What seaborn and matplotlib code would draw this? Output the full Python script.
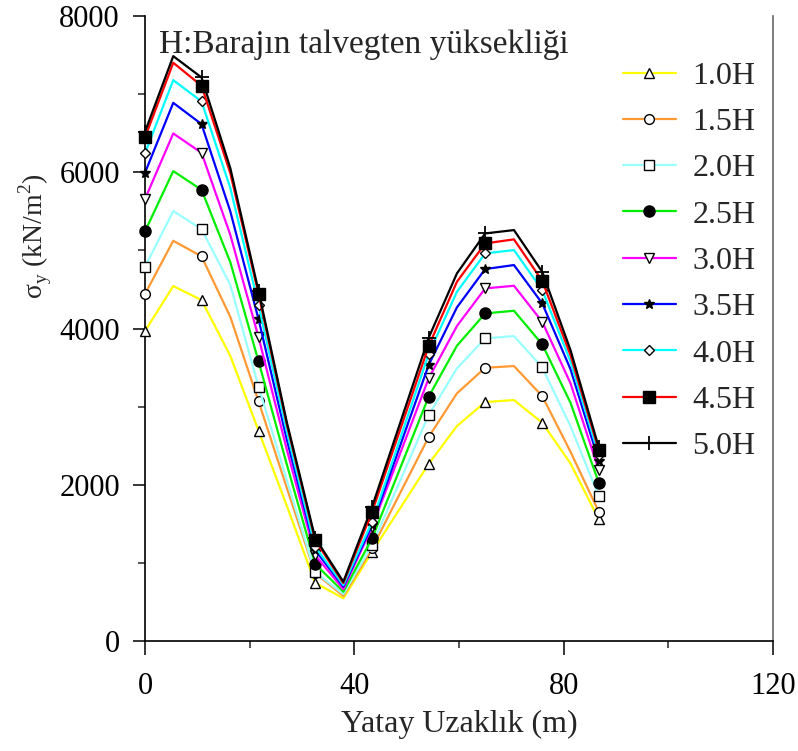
import numpy as np
import pandas as pd
import matplotlib
matplotlib.use("Agg")
import matplotlib.pyplot as plt
from matplotlib.ticker import MultipleLocator
import seaborn as sns

# ── veri ─────────────────────────────────────────────────────────────────────
x_m = [0, 5.4, 10.8, 16.3, 21.7, 27.1, 32.5, 37.9, 43.4, 48.8,
       54.2, 59.6, 65.0, 70.5, 75.9, 81.3, 86.7]

h10 = [3968, 4544, 4365, 3650, 2692, 1730, 746, 546, 1143, 1705, 2266, 2752, 3059, 3085, 2794, 2274, 1558]
h15 = [4442, 5124, 4924, 4150, 3068, 1960, 870, 576, 1187, 1900, 2611, 3170, 3498, 3520, 3136, 2423, 1655]
h20 = [4791, 5504, 5274, 4560, 3256, 2060, 879, 601, 1229, 2060, 2893, 3490, 3874, 3904, 3503, 2750, 1856]
h25 = [5244, 6016, 5777, 4850, 3580, 2260, 986, 631, 1314, 2220, 3127, 3780, 4194, 4228, 3798, 3050, 2026]
h30 = [5658, 6498, 6250, 5200, 3888, 2450, 1101, 662, 1463, 2410, 3362, 4032, 4514, 4548, 4087, 3300, 2189]
h35 = [5995, 6890, 6618, 5500, 4118, 2580, 1165, 695, 1485, 2510, 3533, 4271, 4762, 4813, 4323, 3480, 2308]
h40 = [6242, 7181, 6908, 5800, 4301, 2680, 1207, 717, 1527, 2600, 3674, 4471, 4962, 5005, 4493, 3580, 2381]
h45 = [6447, 7403, 7109, 5990, 4442, 2770, 1293, 742, 1655, 2715, 3776, 4599, 5090, 5142, 4612, 3660, 2445]
h50 = [6519, 7488, 7215, 6054, 4480, 2800, 1320, 759, 1719, 2800, 3882, 4706, 5218, 5261, 4727, 3725, 2480]

labels = ["1.0H", "1.5H", "2.0H", "2.5H", "3.0H", "3.5H", "4.0H", "4.5H", "5.0H"]
series = [h10, h15, h20, h25, h30, h35, h40, h45, h50]

# stil: renk, marker, marker dolgu
colors = ["#FFFF00", "#FF9933", "#99FFFF", "#00EE00", "#FF00FF",
          "#0000FF", "#00FFFF", "#FF0000", "#000000"]
markers = ["^", "o", "s", "o", "v", "*", "D", "s", "+"]
faces = ["white", "white", "white", "black", "white", "black", "white", "black", "black"]
msizes = [6.5, 7, 7, 8, 6.5, 7.5, 5, 8, 10]

sns.set_style("ticks")
plt.rcParams["font.family"] = ["Liberation Serif", "DejaVu Serif"]
plt.rcParams["mathtext.fontset"] = "custom"
plt.rcParams["mathtext.rm"] = "Liberation Serif"

fig = plt.figure(figsize=(7.98, 7.51), dpi=100)
ax = fig.add_axes([0.1817, 0.1465, 0.787, 0.832])

for lab, vals, c, m, fc, ms in zip(labels, series, colors, markers, faces, msizes):
    df = pd.DataFrame({"x": x_m, "y": vals})
    sns.lineplot(data=df, x="x", y="y", ax=ax, color=c, lw=1.6, marker=m,
                 markevery=2, ms=ms, mfc=fc, mec="black", mew=1.0 if m != "+" else 1.3,
                 label=lab, clip_on=False, zorder=3)

ax.set_xlim(0, 120)
ax.set_ylim(0, 8000)
ax.xaxis.set_major_locator(MultipleLocator(40))
ax.xaxis.set_minor_locator(MultipleLocator(20))
ax.yaxis.set_major_locator(MultipleLocator(2000))
ax.yaxis.set_minor_locator(MultipleLocator(1000))
ax.tick_params(which="major", direction="out", length=9, width=1.1, labelsize=22, colors="black")
ax.tick_params(which="minor", direction="out", length=5, width=1.1)
ax.tick_params(axis="x", which="major", length=10, pad=12)
ax.tick_params(axis="y", which="major", pad=9)

for s in ["left", "bottom"]:
    ax.spines[s].set_linewidth(1.2)
    ax.spines[s].set_color("black")
ax.spines["top"].set_visible(False)
ax.spines["right"].set_color("#666666")
ax.spines["right"].set_linewidth(1.2)

ax.set_xlabel("Yatay Uzaklık (m)", fontsize=23, labelpad=7)
ax.set_ylabel(r"σ$_{\mathrm{y}}$ (kN/m$^{\mathrm{2}}$)", fontsize=20)
ax.yaxis.set_label_coords(-0.145, 0.648)

ax.text(0.022, 0.955, "H:Barajın talvegten yüksekliği", transform=ax.transAxes,
        fontsize=24, va="center", ha="left")

leg = ax.legend(loc="upper left", bbox_to_anchor=(0.74, 0.948), frameon=False,
                fontsize=23, handlelength=1.66, handletextpad=0.53,
                labelspacing=0.53, borderaxespad=0)

plt.savefig("out.png", dpi=100)
plt.close()
